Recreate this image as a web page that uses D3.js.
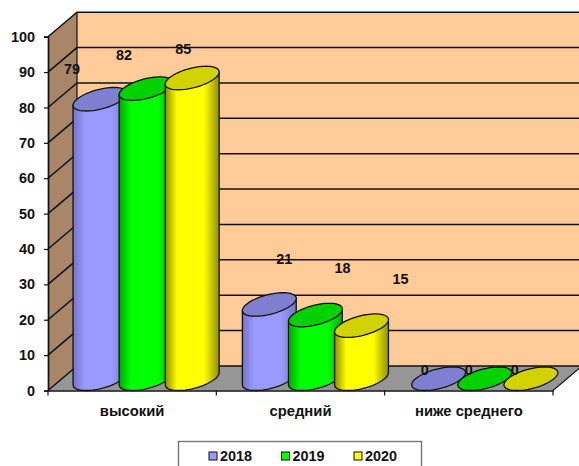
<!DOCTYPE html>
<html><head><meta charset="utf-8">
<style>html,body{margin:0;padding:0;background:#fff;overflow:hidden}svg{display:block}text{font-family:"Liberation Sans",Arial,sans-serif;font-weight:bold;fill:#111}</style>
<script src="https://cdn.jsdelivr.net/npm/d3@7"></script>
</head><body><svg id="c" width="579" height="466"></svg>
<script>
const categories = ["высокий","средний","ниже среднего"];
const seriesNames = ["2018","2019","2020"];
const values2018 = [79,21,0];
const values2019 = [82,18,0];
const values2020 = [85,15,0];
const yTicks = [0,10,20,30,40,50,60,70,80,90,100];
const seriesValues = [values2018,values2019,values2020];
const bodyColors = ["#9999ff","#00ff00","#ffff00"];
const edgeColors = ["#7474c4","#00a800","#8f8f00"];
const topColors = ["#7f7fd2","#00d200","#d2d200"];

const svg = d3.select("#c");
const x = d3.scaleBand().domain(categories).range([48,553]);
const xBars = d3.scaleBand().domain(categories).range([48,556]);
const y = d3.scaleLinear().domain([0,100]).range([390.5,36.7]);
const inner = d3.scaleBand().domain(seriesNames).range([15,x.bandwidth()-15]);
const depth = {x:29,y:-24.5};
const rx = inner.bandwidth()/2, hx = depth.x*0.48, hy = depth.y*0.48;
const line = d3.line();
const poly = p => line(p)+"Z";

// walls
const yMin=y(0), yMax=y(100), xMin=48, xMax=553;
const g = svg.append("g");
g.append("path").attr("d",poly([[xMin,yMin],[xMin+depth.x,yMin+depth.y],[xMax+depth.x,yMin+depth.y],[xMax,yMin]])).attr("fill","#969696");
g.append("path").attr("d",poly([[xMin,yMax],[xMin+depth.x,yMax+depth.y],[xMin+depth.x,yMin+depth.y],[xMin,yMin]])).attr("fill","#a98668");
g.append("path").attr("d",poly([[xMin+depth.x,yMax+depth.y],[xMax+depth.x,yMax+depth.y],[xMax+depth.x,yMin+depth.y],[xMin+depth.x,yMin+depth.y]])).attr("fill","#ffcc99");
yTicks.forEach(t=>{
  g.append("path").attr("fill","none").attr("stroke","#111").attr("stroke-width",1.5)
   .attr("d",line([[xMin,y(t)],[xMin+depth.x,y(t)+depth.y],[xMax+depth.x,y(t)+depth.y]]));
});
g.append("path").attr("fill","none").attr("stroke","#111").attr("stroke-width",1.2).attr("d",line([[xMin+depth.x,yMax+depth.y],[xMin+depth.x,yMin+depth.y]]));
g.append("path").attr("fill","none").attr("stroke","#111").attr("stroke-width",1.2).attr("d",line([[xMax,yMin],[xMax+depth.x,yMin+depth.y]]));

// gradients
const defs = svg.append("defs");
seriesNames.forEach((s,i)=>{
  const lg = defs.append("linearGradient").attr("id","g"+s).attr("x1",0).attr("x2",1).attr("y1",0).attr("y2",0);
  [[0,edgeColors[i]],[.22,bodyColors[i]],[.72,bodyColors[i]],[1,edgeColors[i]]].forEach(([o,c])=>lg.append("stop").attr("offset",o).attr("stop-color",c));
});

// cylinders
const t0 = Math.atan2(hx,rx);
const pt = (cx,cy,t)=>[cx+rx*Math.cos(t)+hx*Math.sin(t), cy+hy*Math.sin(t)];
categories.forEach((c,ci)=>{
  seriesNames.forEach((s,si)=>{
    const v = seriesValues[si][ci];
    const cx = xBars(c)+inner(s)+rx+hx;
    const base = y(0)+hy, top = y(v)+hy;
    const arc = d3.range(0,37).map(k=>pt(cx,base,t0+Math.PI+k*Math.PI/36));
    const bar = svg.append("g");
    if(v>0){
      bar.append("path").attr("d",poly([pt(cx,top,t0+Math.PI),...arc,pt(cx,top,t0)]))
        .attr("fill",`url(#g${s})`).attr("stroke","#111").attr("stroke-width",1.3);
    }
    bar.append("path").attr("d",poly(d3.range(0,72).map(k=>pt(cx,top,k*Math.PI/36))))
      .attr("fill",topColors[si]).attr("stroke","#111").attr("stroke-width",1.3);
  });
});

// axes
const yAxis = d3.axisLeft(y).tickValues(yTicks).tickSize(4).tickPadding(9);
const ya = svg.append("g").attr("transform","translate(48,0)").call(yAxis);
const xa = svg.append("g").attr("transform","translate(0,390.5)").call(d3.axisBottom(x).tickSize(0).tickPadding(15));
ya.selectAll("text").style("font-size","14.4px");
xa.selectAll("text").style("font-size","14.8px");
[ya,xa].forEach(a=>{a.selectAll("text").style("font-family",'"Liberation Sans"').attr("fill","#111");
  a.selectAll("path").attr("stroke","#111").attr("stroke-width",1.7);a.selectAll("line").attr("stroke","#111").attr("stroke-width",1.2);});
const edges=[...categories.map(c=>x(c)),x(categories[2])+x.bandwidth()];
xa.selectAll("line.b").data(edges).join("line").attr("class","b").attr("x1",d=>d).attr("x2",d=>d).attr("y1",0).attr("y2",5).attr("stroke","#111").attr("stroke-width",1.2);

// data labels (offsets are placement only)
const labelShift = [[[-28,-41],[-22,-44],[-9,-40]],[[15,-56],[27,-58],[39,-57]],[[-14,-19],[-16,-19],[-16,-19]]];
categories.forEach((c,ci)=>seriesNames.forEach((s,si)=>{
  const v=seriesValues[si][ci], cx=xBars(c)+inner(s)+rx+hx, [dx,dy]=labelShift[ci][si];
  svg.append("text").attr("x",cx+dx).attr("y",y(v)+dy).attr("text-anchor","middle").attr("dominant-baseline","middle").style("font-size","14.4px").text(v);
}));

// legend
const lg = svg.append("g");
lg.append("rect").attr("x",178.5).attr("y",441.5).attr("width",243).attr("height",30).attr("fill","#fff").attr("stroke","#777").attr("stroke-width",1.4);
const lx = d3.scalePoint().domain(seriesNames).range([209,354]);
seriesNames.forEach((s,i)=>{
  lg.append("rect").attr("x",lx(s)).attr("y",452).attr("width",8).attr("height",8).attr("fill",bodyColors[i]).attr("stroke","#111").attr("stroke-width",1);
  lg.append("text").attr("x",lx(s)+11).attr("y",461).style("font-size","14.4px").text(s);
});
</script></body></html>
